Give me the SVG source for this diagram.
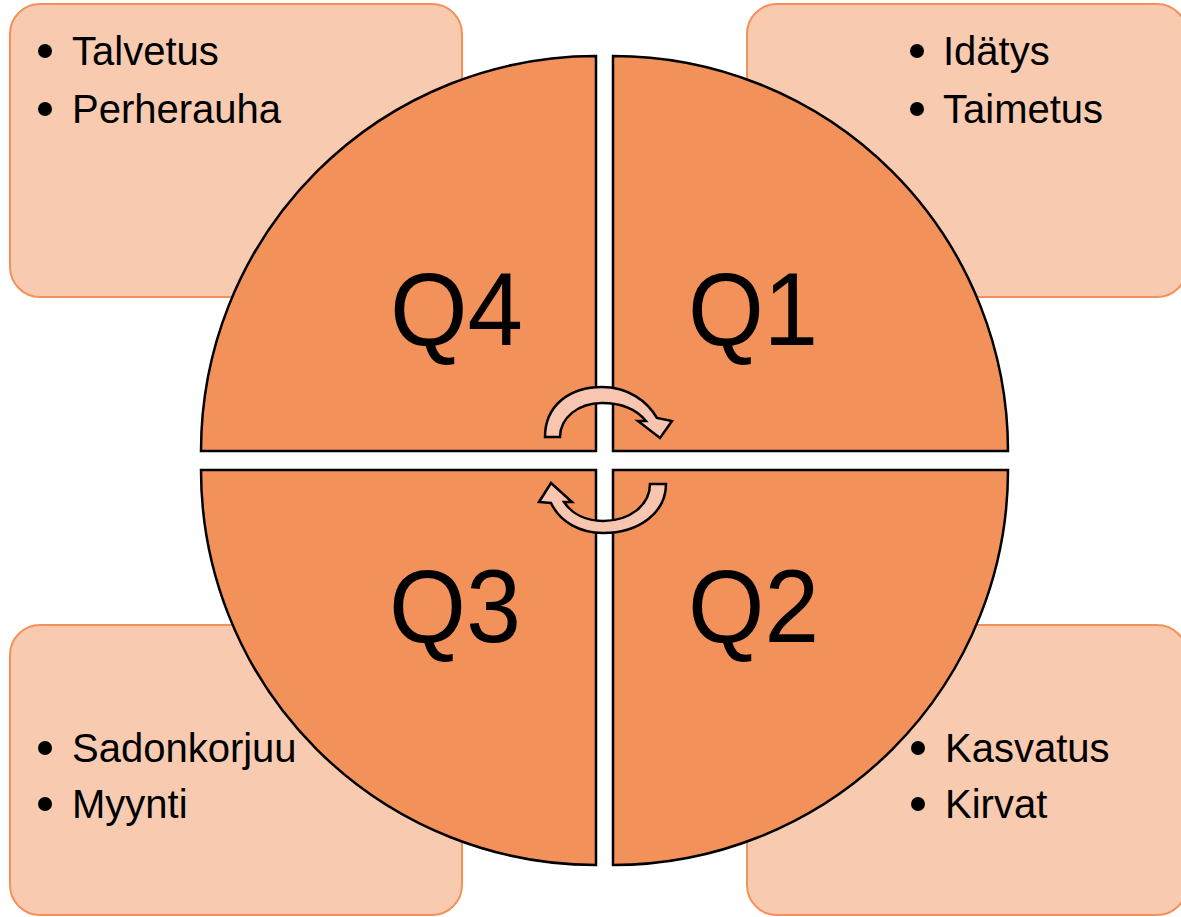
<svg xmlns="http://www.w3.org/2000/svg" width="1181" height="917" viewBox="0 0 1181 917">
<style>
.box{fill:#F8CBB0;stroke:#F4915B;stroke-width:2}
.quad{fill:#F3915B;stroke:#000;stroke-width:2.5}
.q{font-family:"Liberation Sans",Arial,sans-serif;font-size:104px;fill:#000}
.t{font-family:"Liberation Sans",Arial,sans-serif;font-size:40px;fill:#000}
.dot{fill:#000}
.arrow{fill:#F8C6B0;stroke:#000;stroke-width:2.5;stroke-linejoin:miter}
</style>
<rect width="1181" height="917" fill="#fff"/>
<g id="box-q4">
<rect class="box" x="10" y="4" width="452" height="293" rx="30"/>
<circle class="dot" cx="45" cy="51" r="7"/><text class="t" x="72" y="65">Talvetus</text>
<circle class="dot" cx="45" cy="109" r="7"/><text class="t" x="72" y="123">Perherauha</text>
</g>
<g id="box-q1">
<rect class="box" x="747" y="4" width="440" height="293" rx="30"/>
<circle class="dot" cx="917" cy="51" r="7"/><text class="t" x="943" y="65">Idätys</text>
<circle class="dot" cx="917" cy="109" r="7"/><text class="t" x="943" y="123">Taimetus</text>
</g>
<g id="box-q3">
<rect class="box" x="10" y="625" width="452" height="290" rx="30"/>
</g>
<g id="box-q2">
<rect class="box" x="747" y="625" width="440" height="290" rx="30"/>
</g>
<g id="q4">
<path class="quad" d="M596,451 L201,451 A395,395 0 0 1 596,56 Z"/>
<text class="q" x="390" y="345" textLength="133" lengthAdjust="spacingAndGlyphs">Q4</text>
</g>
<g id="q1">
<path class="quad" d="M613,451 L613,56 A395,395 0 0 1 1008,451 Z"/>
<text class="q" x="688" y="345" textLength="130" lengthAdjust="spacingAndGlyphs">Q1</text>
</g>
<g id="q2">
<path class="quad" d="M613,470 L1008,470 A395,395 0 0 1 613,865 Z"/>
<text class="q" x="688" y="642" textLength="131" lengthAdjust="spacingAndGlyphs">Q2</text>
</g>
<g id="q3">
<path class="quad" d="M596,470 L596,865 A395,395 0 0 1 201,470 Z"/>
<text class="q" x="389" y="642" textLength="132" lengthAdjust="spacingAndGlyphs">Q3</text>
</g>
<g id="box-q3-text">
<circle class="dot" cx="45" cy="748" r="7"/><text class="t" x="72" y="762">Sadonkorjuu</text>
<circle class="dot" cx="45" cy="804" r="7"/><text class="t" x="72" y="818">Myynti</text>
</g>
<g id="box-q2-text">
<circle class="dot" cx="918" cy="748" r="7"/><text class="t" x="945" y="762">Kasvatus</text>
<circle class="dot" cx="918" cy="804" r="7"/><text class="t" x="945" y="818">Kirvat</text>
</g>
<g id="connectors">
<path class="arrow" d="M545,437 C545,405 570,387 602,387 C628,387 647,401 657,418 L672,421 L660,438 L638,421 L646,421 C637,410 622,403 602,403 C578,403 560,418 560,437 Z"/>
<path class="arrow" d="M666,484 C666,512 640,533 603,533 C580,533 560,522 551,503 L539,502 L551,483 L572,502 L564,502 C572,514 586,521 603,521 C630,521 650,505 650,484 Z"/>
</g>
</svg>
